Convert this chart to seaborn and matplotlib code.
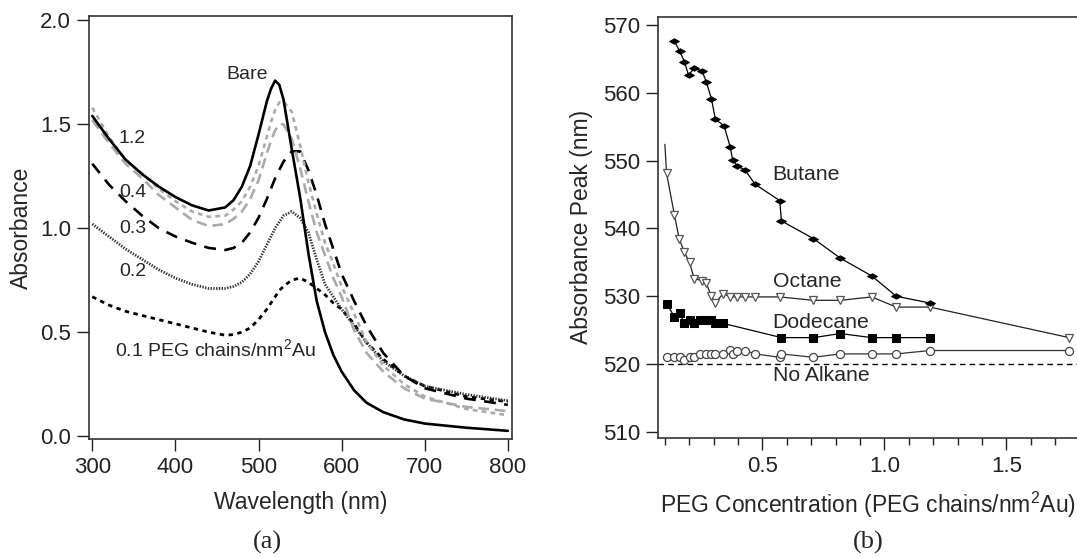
import matplotlib
matplotlib.use("Agg")
import matplotlib.pyplot as plt
import seaborn as sns
import numpy as np
import pandas as pd

# ---------------- data: panel (a) ----------------
wavelength = [300, 320, 340, 360, 380, 400, 420, 440, 460, 470, 480, 490, 500, 510, 515,
              520, 525, 530, 540, 550, 560, 570, 580, 590, 600, 615, 630, 650, 675,
              700, 750, 800]
abs_bare = [1.54, 1.43, 1.33, 1.26, 1.20, 1.15, 1.11, 1.085, 1.10, 1.135, 1.20, 1.30, 1.45, 1.61, 1.67,
            1.71, 1.69, 1.62, 1.38, 1.15, 0.88, 0.65, 0.50, 0.39, 0.31, 0.22, 0.16, 0.115, 0.08,
            0.06, 0.04, 0.025]
abs_12 = [1.58, 1.44, 1.33, 1.26, 1.19, 1.13, 1.08, 1.055, 1.06, 1.09, 1.13, 1.20, 1.30, 1.44, 1.51,
          1.57, 1.605, 1.61, 1.56, 1.40, 1.22, 1.07, 0.93, 0.83, 0.72, 0.59, 0.45, 0.34, 0.25,
          0.19, 0.13, 0.10]
abs_04 = [1.52, 1.41, 1.31, 1.24, 1.16, 1.10, 1.04, 1.01, 1.02, 1.045, 1.08, 1.14, 1.23, 1.36, 1.42,
          1.47, 1.50, 1.50, 1.43, 1.29, 1.13, 0.98, 0.87, 0.76, 0.67, 0.51, 0.40, 0.31, 0.23,
          0.18, 0.14, 0.12]
abs_03 = [1.31, 1.21, 1.13, 1.06, 1.00, 0.96, 0.93, 0.905, 0.895, 0.905, 0.93, 0.98, 1.05, 1.14, 1.19,
          1.24, 1.28, 1.32, 1.37, 1.37, 1.28, 1.16, 1.02, 0.90, 0.78, 0.65, 0.53, 0.40, 0.29,
          0.23, 0.18, 0.15]
abs_02 = [1.02, 0.96, 0.90, 0.85, 0.80, 0.76, 0.73, 0.71, 0.71, 0.72, 0.74, 0.78, 0.84, 0.92, 0.96,
          1.00, 1.03, 1.06, 1.08, 1.05, 0.98, 0.85, 0.73, 0.67, 0.61, 0.53, 0.45, 0.36, 0.29,
          0.24, 0.20, 0.17]
abs_01 = [0.67, 0.63, 0.60, 0.58, 0.56, 0.54, 0.52, 0.50, 0.485, 0.488, 0.50, 0.52, 0.56, 0.61, 0.64,
          0.67, 0.70, 0.72, 0.75, 0.76, 0.74, 0.71, 0.68, 0.64, 0.61, 0.54, 0.45, 0.37, 0.29,
          0.24, 0.19, 0.165]

# ---------------- data: panel (b) ----------------
butane_x = [0.139, 0.161, 0.180, 0.197, 0.220, 0.252, 0.270, 0.291, 0.307, 0.343, 0.368,
            0.378, 0.397, 0.429, 0.470, 0.571, 0.578, 0.709, 0.820, 0.948, 1.049, 1.187]
butane_y = [567.6, 566.1, 564.6, 562.6, 563.6, 563.2, 561.6, 559.1, 556.1, 555.1, 552.0,
            550.1, 549.2, 548.6, 546.5, 544.1, 541.1, 538.5, 535.6, 533.0, 530.0, 529.0]

octane_x = [0.100, 0.107, 0.139, 0.159, 0.180, 0.201, 0.220, 0.252, 0.270, 0.291, 0.307,
            0.339, 0.368, 0.397, 0.429, 0.470, 0.571, 0.709, 0.820, 0.948, 1.049, 1.187, 1.758]
octane_y = [552.4, 548.1, 542.0, 538.4, 536.5, 535.0, 532.6, 532.3, 531.9, 530.0, 529.0,
            530.4, 529.9, 529.9, 529.9, 529.9, 529.9, 529.4, 529.4, 529.9, 528.4, 528.4, 523.9]

dodecane_x = [0.107, 0.139, 0.161, 0.180, 0.201, 0.220, 0.245, 0.270, 0.291, 0.307, 0.339,
              0.578, 0.709, 0.820, 0.948, 1.049, 1.187]
dodecane_y = [528.9, 527.0, 527.5, 526.0, 526.5, 526.0, 526.5, 526.5, 526.5, 526.0, 526.0,
              523.9, 523.9, 524.5, 523.9, 523.9, 523.9]

noalk_x = [0.107, 0.136, 0.161, 0.180, 0.201, 0.220, 0.245, 0.270, 0.291, 0.307, 0.339,
           0.368, 0.380, 0.397, 0.429, 0.470, 0.571, 0.578, 0.709, 0.820, 0.948, 1.049,
           1.187, 1.758]
noalk_y = [521.0, 521.0, 521.0, 520.6, 521.0, 521.0, 521.5, 521.5, 521.5, 521.5, 521.5,
           522.1, 521.5, 522.0, 522.0, 521.5, 521.0, 521.5, 521.0, 521.5, 521.5, 521.5,
           522.0, 522.0]
baseline_peak = 520.0

# ---------------- style ----------------
sns.set_theme(style="ticks")
plt.rcParams['font.family'] = ['Liberation Sans', 'DejaVu Sans']
plt.rcParams['mathtext.fontset'] = 'custom'
plt.rcParams['mathtext.rm'] = 'Liberation Sans'
plt.rcParams['mathtext.it'] = 'Liberation Sans'
FS_TICK = 16
FS_LAB = 16.5
for k in ['xtick', 'ytick']:
    plt.rcParams[f'{k}.labelsize'] = FS_TICK
    plt.rcParams[f'{k}.color'] = '#222222'
    plt.rcParams[f'{k}.direction'] = 'out'
    plt.rcParams[f'{k}.major.width'] = 1.0
    plt.rcParams[f'{k}.major.size'] = 8.5
    plt.rcParams[f'{k}.major.pad'] = 4.5
plt.rcParams['axes.edgecolor'] = '#333333'
plt.rcParams['axes.linewidth'] = 1.2

fig = plt.figure(figsize=(10.77, 5.58), dpi=100)
axA = fig.add_axes([0.0826, 0.213, 0.3928, 0.758])
axB = fig.add_axes([0.611, 0.215, 0.389, 0.755])

# ---------------- panel (a) ----------------
dfA = pd.DataFrame({"wl": wavelength, "bare": abs_bare, "c12": abs_12, "c04": abs_04,
                    "c03": abs_03, "c02": abs_02, "c01": abs_01})
gray = '#aaaaaa'
sns.lineplot(data=dfA, x="wl", y="c01", ax=axA, color='black', lw=2.0,
             linestyle=(0, (1.6, 1.6)), estimator=None, sort=False)
sns.lineplot(data=dfA, x="wl", y="c02", ax=axA, color='#333333', lw=2.0,
             linestyle=(0, (0.5, 0.5)), estimator=None, sort=False)
sns.lineplot(data=dfA, x="wl", y="c03", ax=axA, color='black', lw=1.9,
             linestyle=(0, (4.5, 3.2)), estimator=None, sort=False)
sns.lineplot(data=dfA, x="wl", y="c04", ax=axA, color=gray, lw=1.9,
             linestyle=(0, (4.0, 2.2)), estimator=None, sort=False)
sns.lineplot(data=dfA, x="wl", y="c12", ax=axA, color=gray, lw=1.9,
             linestyle=(0, (1.8, 1.6)), estimator=None, sort=False)
sns.lineplot(data=dfA, x="wl", y="bare", ax=axA, color='black', lw=1.9,
             estimator=None, sort=False)

axA.set_xlim(296, 805)
axA.set_ylim(-0.015, 2.02)
axA.set_xticks([300, 400, 500, 600, 700, 800])
axA.set_yticks([0.0, 0.5, 1.0, 1.5, 2.0])
axA.set_yticklabels(['0.0', '0.5', '1.0', '1.5', '2.0'])
axA.set_xlabel("Wavelength (nm)", fontsize=FS_LAB, labelpad=9)
axA.set_ylabel("Absorbance", fontsize=FS_LAB, labelpad=5)
for s in axA.spines.values():
    s.set_visible(True)

tfa = 14
axA.text(486, 1.74, "Bare", fontsize=tfa, ha='center', va='center')
axA.text(332, 1.43, "1.2", fontsize=tfa, ha='left', va='center')
axA.text(332, 1.17, "0.4", fontsize=tfa, ha='left', va='center')
axA.text(332, 1.00, "0.3", fontsize=tfa, ha='left', va='center')
axA.text(332, 0.79, "0.2", fontsize=tfa, ha='left', va='center')
axA.text(327, 0.42, "0.1 PEG chains/nm$^{2}$Au", fontsize=tfa, ha='left', va='center')

# ---------------- panel (b) ----------------
diamond = [(-1.0, 0.0), (0.0, 0.55), (1.0, 0.0), (0.0, -0.55), (-1.0, 0.0)]
dfBu = pd.DataFrame({"x": butane_x, "y": butane_y})
dfOc = pd.DataFrame({"x": octane_x, "y": octane_y})
dfDo = pd.DataFrame({"x": dodecane_x, "y": dodecane_y})
dfNo = pd.DataFrame({"x": noalk_x, "y": noalk_y})

axB.axhline(baseline_peak, color='black', lw=1.0, linestyle=(0, (4, 3)))
sns.lineplot(data=dfNo, x="x", y="y", ax=axB, color='#333333', lw=0.9, marker='o',
             markersize=5.8, markerfacecolor='white', markeredgecolor='#444444',
             markeredgewidth=0.9, estimator=None, sort=False)
sns.lineplot(data=dfDo, x="x", y="y", ax=axB, color='black', lw=0.9, marker='s',
             markersize=5.5, markerfacecolor='black', markeredgecolor='black',
             estimator=None, sort=False)
sns.lineplot(data=dfOc, x="x", y="y", ax=axB, color='#222222', lw=0.9, marker='v',
             markersize=6.2, markerfacecolor='white', markeredgecolor='#555555',
             markeredgewidth=0.9, markevery=list(range(1, len(octane_x))),
             estimator=None, sort=False)
sns.lineplot(data=dfBu, x="x", y="y", ax=axB, color='black', lw=0.9, marker=diamond,
             markersize=7, markerfacecolor='black', markeredgecolor='black',
             estimator=None, sort=False)

axB.set_xlim(0.072, 1.79)
axB.set_ylim(509.1, 571.2)
axB.set_xticks([0.5, 1.0, 1.5])
axB.set_xticklabels(['0.5', '1.0', '1.5'])
axB.set_xticks(np.arange(0.1, 1.8, 0.1), minor=True)
axB.tick_params(axis='x', which='minor', direction='out', length=5, width=1.0, color='#222222')
axB.set_yticks([510, 520, 530, 540, 550, 560, 570])
axB.set_xlabel("PEG Concentration (PEG chains/nm$^{2}$Au)", fontsize=FS_LAB, labelpad=9)
axB.set_ylabel("Absorbance Peak (nm)", fontsize=FS_LAB, labelpad=7)
axB.spines['right'].set_visible(False)
axB.spines['top'].set_visible(True)

tfb = 15.3
axB.text(0.542, 548.0, "Butane", fontsize=tfb, ha='left', va='center')
axB.text(0.542, 532.2, "Octane", fontsize=tfb, ha='left', va='center')
axB.text(0.542, 526.2, "Dodecane", fontsize=tfb, ha='left', va='center')
axB.text(0.542, 518.3, "No Alkane", fontsize=tfb, ha='left', va='center')

# panel letters
fig.text(0.248, 0.027, "(a)", fontsize=19, ha='center', va='center',
         family=['Liberation Serif', 'DejaVu Serif'])
fig.text(0.806, 0.027, "(b)", fontsize=19, ha='center', va='center',
         family=['Liberation Serif', 'DejaVu Serif'])

fig.savefig("out.png", dpi=100)
